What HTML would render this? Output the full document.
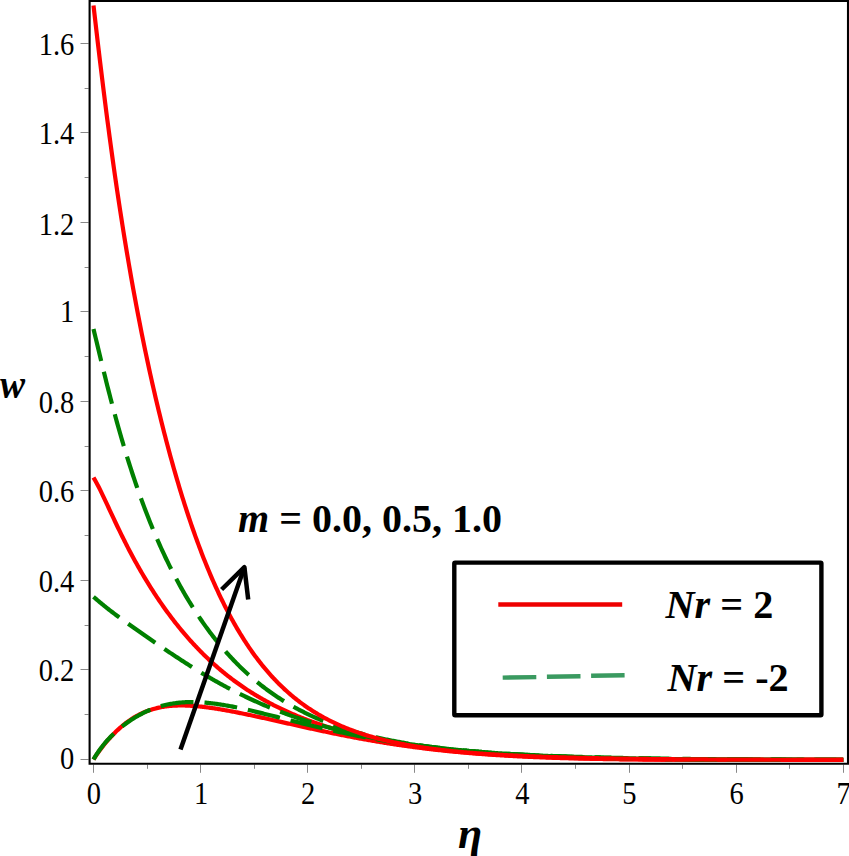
<!DOCTYPE html>
<html><head><meta charset="utf-8"><style>
html,body{margin:0;padding:0;background:#fff;}
body{width:849px;height:856px;overflow:hidden;position:relative;}
svg{position:absolute;left:0;top:0;}
text{font-family:"Liberation Serif",serif;}
</style></head><body>
<svg width="849" height="856" viewBox="0 0 849 856">
<path d="M93.50,759.50L94.57,757.81L95.64,756.18L96.71,754.59L97.78,753.04L98.86,751.54L99.93,750.07L101.00,748.64L102.07,747.24L103.14,745.87L104.21,744.53L105.28,743.23L106.35,741.95L107.42,740.70L108.50,739.47L109.57,738.27L110.64,737.10L111.71,735.96L112.78,734.84L113.85,733.74L114.92,732.67L115.99,731.62L117.06,730.60L118.14,729.60L119.21,728.62L120.28,727.67L121.35,726.75L122.42,725.84L123.49,724.96L124.56,724.10L125.63,723.27L126.70,722.46L127.78,721.67L128.85,720.90L129.92,720.16L130.99,719.44L132.06,718.74L133.13,718.06L134.20,717.41L135.27,716.77L136.34,716.16L137.42,715.57L138.49,715.00L139.56,714.44L140.63,713.91L141.70,713.40L142.77,712.91L143.84,712.44L144.91,711.99L145.98,711.55L147.06,711.13L148.13,710.73L149.20,710.35L150.27,709.99L151.34,709.64L152.41,709.31L153.48,709.00L154.55,708.70L155.62,708.42L156.69,708.15L157.77,707.90L158.84,707.66L159.91,707.44L160.98,707.23L162.05,707.03L163.12,706.85L164.19,706.68L165.26,706.52L166.33,706.38L167.41,706.25L168.48,706.12L169.55,706.01L170.62,705.92L171.69,705.83L172.76,705.75L173.83,705.68L174.90,705.63L175.97,705.58L177.05,705.54L178.12,705.51L179.19,705.49L180.26,705.48L181.33,705.48L182.40,705.48L183.47,705.49L184.54,705.51L185.61,705.54L186.69,705.58L187.76,705.62L188.83,705.67L189.90,705.72L190.97,705.78L192.04,705.85L193.11,705.93L194.18,706.01L195.25,706.09L196.33,706.18L197.40,706.28L198.47,706.38L199.54,706.49L200.61,706.60L201.68,706.71L202.75,706.84L203.82,706.96L204.89,707.09L205.97,707.22L207.04,707.36L208.11,707.50L209.18,707.65L210.25,707.80L211.32,707.95L212.39,708.10L213.46,708.26L214.53,708.43L215.61,708.59L216.68,708.76L217.75,708.93L218.82,709.11L219.89,709.28L220.96,709.46L222.03,709.64L223.10,709.83L224.17,710.02L225.25,710.21L226.32,710.40L227.39,710.59L228.46,710.79L229.53,710.99L230.60,711.19L231.67,711.39L232.74,711.59L233.81,711.80L234.89,712.00L235.96,712.21L237.03,712.42L238.10,712.64L239.17,712.85L240.24,713.07L241.31,713.28L242.38,713.50L243.45,713.72L244.53,713.94L245.60,714.16L246.67,714.38L247.74,714.61L248.81,714.83L249.88,715.06L250.95,715.29L252.02,715.51L253.09,715.74L254.16,715.97L255.24,716.20L256.31,716.43L257.38,716.67L258.45,716.90L259.52,717.13L260.59,717.37L261.66,717.60L262.73,717.84L263.80,718.07L264.88,718.31L265.95,718.55L267.02,718.78L268.09,719.02L269.16,719.26L270.23,719.50L271.30,719.74L272.37,719.98L273.44,720.21L274.52,720.45L275.59,720.69L276.66,720.93L277.73,721.17L278.80,721.42L279.87,721.66L280.94,721.90L282.01,722.14L283.08,722.38L284.16,722.62L285.23,722.86L286.30,723.10L287.37,723.34L288.44,723.58L289.51,723.82L290.58,724.06L291.65,724.30L292.72,724.54L293.80,724.78L294.87,725.02L295.94,725.26L297.01,725.50L298.08,725.74L299.15,725.98L300.22,726.22L301.29,726.45L302.36,726.69L303.44,726.93L304.51,727.17L305.58,727.40L306.65,727.64L307.72,727.87L308.79,728.11L309.86,728.34L310.93,728.58L312.00,728.81L313.08,729.04L314.15,729.28L315.22,729.51L316.29,729.74L317.36,729.97L318.43,730.20L319.50,730.43L320.57,730.66L321.64,730.89L322.72,731.11L323.79,731.34L324.86,731.57L325.93,731.79L327.00,732.02L328.07,732.24L329.14,732.47L330.21,732.69L331.28,732.91L332.36,733.13L333.43,733.35L334.50,733.57L335.57,733.79L336.64,734.01L337.71,734.22L338.78,734.44L339.85,734.66L340.92,734.87L342.00,735.08L343.07,735.30L344.14,735.51L345.21,735.72L346.28,735.93L347.35,736.14L348.42,736.35L349.49,736.55L350.56,736.76L351.64,736.96L352.71,737.17L353.78,737.37L354.85,737.57L355.92,737.78L356.99,737.98L358.06,738.18L359.13,738.37L360.20,738.57L361.27,738.77L362.35,738.96L363.42,739.16L364.49,739.35L365.56,739.54L366.63,739.73L367.70,739.92L368.77,740.11L369.84,740.30L370.91,740.49L371.99,740.67L373.06,740.86L374.13,741.04L375.20,741.22L376.27,741.40L377.34,741.59L378.41,741.76L379.48,741.94L380.55,742.12L381.63,742.30L382.70,742.47L383.77,742.64L384.84,742.82L385.91,742.99L386.98,743.16L388.05,743.33L389.12,743.50L390.19,743.66L391.27,743.83L392.34,744.00L393.41,744.16L394.48,744.32L395.55,744.48L396.62,744.64L397.69,744.80L398.76,744.96L399.83,745.12L400.91,745.28L401.98,745.43L403.05,745.58L404.12,745.74L405.19,745.89L406.26,746.04L407.33,746.19L408.40,746.34L409.47,746.48L410.55,746.63L411.62,746.78L412.69,746.92L413.76,747.06L414.83,747.20L415.90,747.35L416.97,747.48L418.04,747.62L419.11,747.76L420.19,747.90L421.26,748.03L422.33,748.17L423.40,748.30L424.47,748.43L425.54,748.56L426.61,748.69L427.68,748.82L428.75,748.95L429.83,749.08L430.90,749.20L431.97,749.33L433.04,749.45L434.11,749.57L435.18,749.69L436.25,749.81L437.32,749.93L438.39,750.05L439.47,750.17L440.54,750.28L441.61,750.40L442.68,750.51L443.75,750.63L444.82,750.74L445.89,750.85L446.96,750.96L448.03,751.07L449.11,751.18L450.18,751.29L451.25,751.39L452.32,751.50L453.39,751.60L454.46,751.71L455.53,751.81L456.60,751.91L457.67,752.01L458.75,752.11L459.82,752.21L460.89,752.31L461.96,752.40L463.03,752.50L464.10,752.59L465.17,752.69L466.24,752.78L467.31,752.87L468.38,752.97L469.46,753.06L470.53,753.15L471.60,753.23L472.67,753.32L473.74,753.41L474.81,753.49L475.88,753.58L476.95,753.66L478.02,753.75L479.10,753.83L480.17,753.91L481.24,753.99L482.31,754.07L483.38,754.15L484.45,754.23L485.52,754.31L486.59,754.39L487.66,754.46L488.74,754.54L489.81,754.61L490.88,754.68L491.95,754.76L493.02,754.83L494.09,754.90L495.16,754.97L496.23,755.04L497.30,755.11L498.38,755.18L499.45,755.25L500.52,755.31L501.59,755.38L502.66,755.44L503.73,755.51L504.80,755.57L505.87,755.64L506.94,755.70L508.02,755.76L509.09,755.82L510.16,755.88L511.23,755.94L512.30,756.00L513.37,756.06L514.44,756.12L515.51,756.17L516.58,756.23L517.66,756.28L518.73,756.34L519.80,756.39L520.87,756.45L521.94,756.50L523.01,756.55L524.08,756.60L525.15,756.66L526.22,756.71L527.30,756.76L528.37,756.81L529.44,756.85L530.51,756.90L531.58,756.95L532.65,757.00L533.72,757.04L534.79,757.09L535.86,757.13L536.94,757.18L538.01,757.22L539.08,757.27L540.15,757.31L541.22,757.35L542.29,757.39L543.36,757.44L544.43,757.48L545.50,757.52L546.58,757.56L547.65,757.60L548.72,757.64L549.79,757.67L550.86,757.71L551.93,757.75L553.00,757.79L554.07,757.82L555.14,757.86L556.22,757.89L557.29,757.93L558.36,757.96L559.43,758.00L560.50,758.03L561.57,758.06L562.64,758.10L563.71,758.13L564.78,758.16L565.86,758.19L566.93,758.22L568.00,758.25L569.07,758.28L570.14,758.31L571.21,758.34L572.28,758.37L573.35,758.40L574.42,758.42L575.50,758.45L576.57,758.48L577.64,758.51L578.71,758.53L579.78,758.56L580.85,758.58L581.92,758.61L582.99,758.63L584.06,758.66L585.13,758.68L586.21,758.71L587.28,758.73L588.35,758.75L589.42,758.77L590.49,758.80L591.56,758.82L592.63,758.84L593.70,758.86L594.77,758.88L595.85,758.90L596.92,758.92L597.99,758.94L599.06,758.96L600.13,758.98L601.20,759.00L602.27,759.02L603.34,759.04L604.41,759.06L605.49,759.07L606.56,759.09L607.63,759.11L608.70,759.13L609.77,759.14L610.84,759.16L611.91,759.17L612.98,759.19L614.05,759.21L615.13,759.22L616.20,759.24L617.27,759.25L618.34,759.27L619.41,759.28L620.48,759.29L621.55,759.31L622.62,759.32L623.69,759.33L624.77,759.35L625.84,759.36L626.91,759.37L627.98,759.38L629.05,759.40L630.12,759.41L631.19,759.42L632.26,759.43L633.33,759.44L634.41,759.45L635.48,759.46L636.55,759.47L637.62,759.48L638.69,759.49L639.76,759.50L640.83,759.51L641.90,759.52L642.97,759.53L644.05,759.54L645.12,759.55L646.19,759.56L647.26,759.57L648.33,759.58L649.40,759.58L650.47,759.59L651.54,759.60L652.61,759.61L653.69,759.61L654.76,759.62L655.83,759.63L656.90,759.64L657.97,759.64L659.04,759.65L660.11,759.66L661.18,759.66L662.25,759.67L663.33,759.67L664.40,759.68L665.47,759.68L666.54,759.69L667.61,759.70L668.68,759.70L669.75,759.71L670.82,759.71L671.89,759.72L672.97,759.72L674.04,759.72L675.11,759.73L676.18,759.73L677.25,759.74L678.32,759.74L679.39,759.75L680.46,759.75L681.53,759.75L682.61,759.76L683.68,759.76L684.75,759.76L685.82,759.77L686.89,759.77L687.96,759.77L689.03,759.78L690.10,759.78L691.17,759.78L692.24,759.78L693.32,759.79L694.39,759.79L695.46,759.79L696.53,759.79L697.60,759.79L698.67,759.80L699.74,759.80L700.81,759.80L701.88,759.80L702.96,759.80L704.03,759.80L705.10,759.81L706.17,759.81L707.24,759.81L708.31,759.81L709.38,759.81L710.45,759.81L711.52,759.81L712.60,759.81L713.67,759.81L714.74,759.81L715.81,759.82L716.88,759.82L717.95,759.82L719.02,759.82L720.09,759.82L721.16,759.82L722.24,759.82L723.31,759.82L724.38,759.82L725.45,759.82L726.52,759.82L727.59,759.82L728.66,759.82L729.73,759.82L730.80,759.82L731.88,759.82L732.95,759.82L734.02,759.82L735.09,759.82L736.16,759.81L737.23,759.81L738.30,759.81L739.37,759.81L740.44,759.81L741.52,759.81L742.59,759.81L743.66,759.81L744.73,759.81L745.80,759.81L746.87,759.81L747.94,759.81L749.01,759.80L750.08,759.80L751.16,759.80L752.23,759.80L753.30,759.80L754.37,759.80L755.44,759.80L756.51,759.80L757.58,759.79L758.65,759.79L759.72,759.79L760.80,759.79L761.87,759.79L762.94,759.79L764.01,759.78L765.08,759.78L766.15,759.78L767.22,759.78L768.29,759.78L769.36,759.78L770.44,759.77L771.51,759.77L772.58,759.77L773.65,759.77L774.72,759.77L775.79,759.77L776.86,759.76L777.93,759.76L779.00,759.76L780.08,759.76L781.15,759.76L782.22,759.75L783.29,759.75L784.36,759.75L785.43,759.75L786.50,759.75L787.57,759.74L788.64,759.74L789.72,759.74L790.79,759.74L791.86,759.73L792.93,759.73L794.00,759.73L795.07,759.73L796.14,759.73L797.21,759.72L798.28,759.72L799.35,759.72L800.43,759.72L801.50,759.71L802.57,759.71L803.64,759.71L804.71,759.71L805.78,759.71L806.85,759.70L807.92,759.70L808.99,759.70L810.07,759.70L811.14,759.69L812.21,759.69L813.28,759.69L814.35,759.69L815.42,759.68L816.49,759.68L817.56,759.68L818.63,759.68L819.71,759.67L820.78,759.67L821.85,759.67L822.92,759.67L823.99,759.67L825.06,759.66L826.13,759.66L827.20,759.66L828.27,759.66L829.35,759.65L830.42,759.65L831.49,759.65L832.56,759.65L833.63,759.64L834.70,759.64L835.77,759.64L836.84,759.64L837.91,759.63L838.99,759.63L840.06,759.63L841.13,759.63L842.20,759.62L843.27,759.62" fill="none" stroke="#ff0000" stroke-width="4.2" stroke-linejoin="round"/>
<path d="M93.50,477.51L94.57,479.31L95.64,481.19L96.71,483.16L97.78,485.19L98.86,487.28L99.93,489.42L101.00,491.60L102.07,493.81L103.14,496.05L104.21,498.32L105.28,500.60L106.35,502.89L107.42,505.19L108.50,507.49L109.57,509.79L110.64,512.10L111.71,514.39L112.78,516.68L113.85,518.97L114.92,521.24L115.99,523.50L117.06,525.75L118.14,527.98L119.21,530.20L120.28,532.41L121.35,534.60L122.42,536.77L123.49,538.92L124.56,541.05L125.63,543.17L126.70,545.27L127.78,547.35L128.85,549.41L129.92,551.46L130.99,553.48L132.06,555.49L133.13,557.48L134.20,559.45L135.27,561.40L136.34,563.33L137.42,565.25L138.49,567.14L139.56,569.02L140.63,570.88L141.70,572.73L142.77,574.56L143.84,576.37L144.91,578.16L145.98,579.93L147.06,581.69L148.13,583.43L149.20,585.16L150.27,586.87L151.34,588.57L152.41,590.24L153.48,591.91L154.55,593.55L155.62,595.18L156.69,596.80L157.77,598.40L158.84,599.99L159.91,601.56L160.98,603.12L162.05,604.66L163.12,606.19L164.19,607.70L165.26,609.20L166.33,610.69L167.41,612.16L168.48,613.62L169.55,615.06L170.62,616.50L171.69,617.91L172.76,619.32L173.83,620.71L174.90,622.09L175.97,623.45L177.05,624.81L178.12,626.14L179.19,627.47L180.26,628.79L181.33,630.09L182.40,631.38L183.47,632.65L184.54,633.92L185.61,635.17L186.69,636.41L187.76,637.64L188.83,638.86L189.90,640.06L190.97,641.26L192.04,642.44L193.11,643.61L194.18,644.77L195.25,645.91L196.33,647.05L197.40,648.18L198.47,649.29L199.54,650.39L200.61,651.49L201.68,652.57L202.75,653.64L203.82,654.70L204.89,655.75L205.97,656.79L207.04,657.82L208.11,658.84L209.18,659.85L210.25,660.85L211.32,661.83L212.39,662.81L213.46,663.78L214.53,664.74L215.61,665.69L216.68,666.63L217.75,667.56L218.82,668.48L219.89,669.40L220.96,670.30L222.03,671.19L223.10,672.08L224.17,672.95L225.25,673.82L226.32,674.68L227.39,675.53L228.46,676.37L229.53,677.20L230.60,678.03L231.67,678.84L232.74,679.65L233.81,680.45L234.89,681.24L235.96,682.03L237.03,682.80L238.10,683.57L239.17,684.33L240.24,685.08L241.31,685.83L242.38,686.57L243.45,687.30L244.53,688.02L245.60,688.73L246.67,689.44L247.74,690.14L248.81,690.84L249.88,691.52L250.95,692.20L252.02,692.88L253.09,693.54L254.16,694.20L255.24,694.86L256.31,695.50L257.38,696.14L258.45,696.78L259.52,697.40L260.59,698.03L261.66,698.64L262.73,699.25L263.80,699.85L264.88,700.45L265.95,701.04L267.02,701.63L268.09,702.21L269.16,702.78L270.23,703.35L271.30,703.91L272.37,704.47L273.44,705.02L274.52,705.57L275.59,706.11L276.66,706.64L277.73,707.17L278.80,707.70L279.87,708.22L280.94,708.73L282.01,709.24L283.08,709.75L284.16,710.25L285.23,710.74L286.30,711.23L287.37,711.72L288.44,712.20L289.51,712.67L290.58,713.15L291.65,713.61L292.72,714.08L293.80,714.53L294.87,714.99L295.94,715.44L297.01,715.88L298.08,716.32L299.15,716.76L300.22,717.19L301.29,717.62L302.36,718.04L303.44,718.46L304.51,718.88L305.58,719.29L306.65,719.70L307.72,720.11L308.79,720.51L309.86,720.90L310.93,721.30L312.00,721.68L313.08,722.07L314.15,722.45L315.22,722.83L316.29,723.21L317.36,723.58L318.43,723.94L319.50,724.31L320.57,724.67L321.64,725.03L322.72,725.38L323.79,725.73L324.86,726.08L325.93,726.42L327.00,726.76L328.07,727.10L329.14,727.44L330.21,727.77L331.28,728.10L332.36,728.42L333.43,728.74L334.50,729.06L335.57,729.38L336.64,729.69L337.71,730.00L338.78,730.31L339.85,730.62L340.92,730.92L342.00,731.22L343.07,731.51L344.14,731.81L345.21,732.10L346.28,732.39L347.35,732.67L348.42,732.95L349.49,733.23L350.56,733.51L351.64,733.79L352.71,734.06L353.78,734.33L354.85,734.59L355.92,734.86L356.99,735.12L358.06,735.38L359.13,735.64L360.20,735.89L361.27,736.15L362.35,736.40L363.42,736.64L364.49,736.89L365.56,737.13L366.63,737.37L367.70,737.61L368.77,737.85L369.84,738.08L370.91,738.32L371.99,738.55L373.06,738.77L374.13,739.00L375.20,739.22L376.27,739.44L377.34,739.66L378.41,739.88L379.48,740.10L380.55,740.31L381.63,740.52L382.70,740.73L383.77,740.94L384.84,741.14L385.91,741.35L386.98,741.55L388.05,741.75L389.12,741.95L390.19,742.14L391.27,742.34L392.34,742.53L393.41,742.72L394.48,742.91L395.55,743.09L396.62,743.28L397.69,743.46L398.76,743.64L399.83,743.82L400.91,744.00L401.98,744.18L403.05,744.35L404.12,744.52L405.19,744.70L406.26,744.86L407.33,745.03L408.40,745.20L409.47,745.36L410.55,745.53L411.62,745.69L412.69,745.85L413.76,746.01L414.83,746.16L415.90,746.32L416.97,746.47L418.04,746.63L419.11,746.78L420.19,746.93L421.26,747.07L422.33,747.22L423.40,747.37L424.47,747.51L425.54,747.65L426.61,747.79L427.68,747.93L428.75,748.07L429.83,748.21L430.90,748.34L431.97,748.48L433.04,748.61L434.11,748.74L435.18,748.87L436.25,749.00L437.32,749.13L438.39,749.26L439.47,749.38L440.54,749.50L441.61,749.63L442.68,749.75L443.75,749.87L444.82,749.99L445.89,750.11L446.96,750.22L448.03,750.34L449.11,750.45L450.18,750.57L451.25,750.68L452.32,750.79L453.39,750.90L454.46,751.01L455.53,751.11L456.60,751.22L457.67,751.33L458.75,751.43L459.82,751.53L460.89,751.64L461.96,751.74L463.03,751.84L464.10,751.94L465.17,752.03L466.24,752.13L467.31,752.23L468.38,752.32L469.46,752.42L470.53,752.51L471.60,752.60L472.67,752.69L473.74,752.78L474.81,752.87L475.88,752.96L476.95,753.05L478.02,753.13L479.10,753.22L480.17,753.30L481.24,753.39L482.31,753.47L483.38,753.55L484.45,753.63L485.52,753.71L486.59,753.79L487.66,753.87L488.74,753.95L489.81,754.03L490.88,754.10L491.95,754.18L493.02,754.25L494.09,754.33L495.16,754.40L496.23,754.47L497.30,754.54L498.38,754.61L499.45,754.68L500.52,754.75L501.59,754.82L502.66,754.89L503.73,754.95L504.80,755.02L505.87,755.09L506.94,755.15L508.02,755.21L509.09,755.28L510.16,755.34L511.23,755.40L512.30,755.46L513.37,755.52L514.44,755.58L515.51,755.64L516.58,755.70L517.66,755.76L518.73,755.81L519.80,755.87L520.87,755.93L521.94,755.98L523.01,756.04L524.08,756.09L525.15,756.14L526.22,756.20L527.30,756.25L528.37,756.30L529.44,756.35L530.51,756.40L531.58,756.45L532.65,756.50L533.72,756.55L534.79,756.60L535.86,756.64L536.94,756.69L538.01,756.74L539.08,756.78L540.15,756.83L541.22,756.87L542.29,756.92L543.36,756.96L544.43,757.01L545.50,757.05L546.58,757.09L547.65,757.13L548.72,757.17L549.79,757.21L550.86,757.25L551.93,757.29L553.00,757.33L554.07,757.37L555.14,757.41L556.22,757.45L557.29,757.49L558.36,757.52L559.43,757.56L560.50,757.60L561.57,757.63L562.64,757.67L563.71,757.70L564.78,757.74L565.86,757.77L566.93,757.80L568.00,757.84L569.07,757.87L570.14,757.90L571.21,757.93L572.28,757.96L573.35,758.00L574.42,758.03L575.50,758.06L576.57,758.09L577.64,758.12L578.71,758.15L579.78,758.17L580.85,758.20L581.92,758.23L582.99,758.26L584.06,758.29L585.13,758.31L586.21,758.34L587.28,758.37L588.35,758.39L589.42,758.42L590.49,758.44L591.56,758.47L592.63,758.49L593.70,758.52L594.77,758.54L595.85,758.56L596.92,758.59L597.99,758.61L599.06,758.63L600.13,758.66L601.20,758.68L602.27,758.70L603.34,758.72L604.41,758.74L605.49,758.76L606.56,758.78L607.63,758.80L608.70,758.82L609.77,758.84L610.84,758.86L611.91,758.88L612.98,758.90L614.05,758.92L615.13,758.94L616.20,758.96L617.27,758.98L618.34,758.99L619.41,759.01L620.48,759.03L621.55,759.05L622.62,759.06L623.69,759.08L624.77,759.10L625.84,759.11L626.91,759.13L627.98,759.14L629.05,759.16L630.12,759.17L631.19,759.19L632.26,759.20L633.33,759.22L634.41,759.23L635.48,759.25L636.55,759.26L637.62,759.27L638.69,759.29L639.76,759.30L640.83,759.31L641.90,759.33L642.97,759.34L644.05,759.35L645.12,759.36L646.19,759.38L647.26,759.39L648.33,759.40L649.40,759.41L650.47,759.42L651.54,759.43L652.61,759.44L653.69,759.45L654.76,759.46L655.83,759.48L656.90,759.49L657.97,759.50L659.04,759.51L660.11,759.52L661.18,759.53L662.25,759.53L663.33,759.54L664.40,759.55L665.47,759.56L666.54,759.57L667.61,759.58L668.68,759.59L669.75,759.60L670.82,759.60L671.89,759.61L672.97,759.62L674.04,759.63L675.11,759.64L676.18,759.64L677.25,759.65L678.32,759.66L679.39,759.67L680.46,759.67L681.53,759.68L682.61,759.69L683.68,759.69L684.75,759.70L685.82,759.71L686.89,759.71L687.96,759.72L689.03,759.73L690.10,759.73L691.17,759.74L692.24,759.74L693.32,759.75L694.39,759.75L695.46,759.76L696.53,759.76L697.60,759.77L698.67,759.77L699.74,759.78L700.81,759.78L701.88,759.79L702.96,759.79L704.03,759.80L705.10,759.80L706.17,759.81L707.24,759.81L708.31,759.82L709.38,759.82L710.45,759.82L711.52,759.83L712.60,759.83L713.67,759.84L714.74,759.84L715.81,759.84L716.88,759.85L717.95,759.85L719.02,759.85L720.09,759.86L721.16,759.86L722.24,759.86L723.31,759.87L724.38,759.87L725.45,759.87L726.52,759.87L727.59,759.88L728.66,759.88L729.73,759.88L730.80,759.88L731.88,759.89L732.95,759.89L734.02,759.89L735.09,759.89L736.16,759.90L737.23,759.90L738.30,759.90L739.37,759.90L740.44,759.90L741.52,759.91L742.59,759.91L743.66,759.91L744.73,759.91L745.80,759.91L746.87,759.91L747.94,759.91L749.01,759.92L750.08,759.92L751.16,759.92L752.23,759.92L753.30,759.92L754.37,759.92L755.44,759.92L756.51,759.92L757.58,759.93L758.65,759.93L759.72,759.93L760.80,759.93L761.87,759.93L762.94,759.93L764.01,759.93L765.08,759.93L766.15,759.93L767.22,759.93L768.29,759.93L769.36,759.93L770.44,759.93L771.51,759.93L772.58,759.94L773.65,759.94L774.72,759.94L775.79,759.94L776.86,759.94L777.93,759.94L779.00,759.94L780.08,759.94L781.15,759.94L782.22,759.94L783.29,759.94L784.36,759.94L785.43,759.94L786.50,759.94L787.57,759.94L788.64,759.94L789.72,759.94L790.79,759.94L791.86,759.94L792.93,759.94L794.00,759.94L795.07,759.93L796.14,759.93L797.21,759.93L798.28,759.93L799.35,759.93L800.43,759.93L801.50,759.93L802.57,759.93L803.64,759.93L804.71,759.93L805.78,759.93L806.85,759.93L807.92,759.93L808.99,759.93L810.07,759.93L811.14,759.93L812.21,759.93L813.28,759.93L814.35,759.92L815.42,759.92L816.49,759.92L817.56,759.92L818.63,759.92L819.71,759.92L820.78,759.92L821.85,759.92L822.92,759.92L823.99,759.92L825.06,759.92L826.13,759.92L827.20,759.91L828.27,759.91L829.35,759.91L830.42,759.91L831.49,759.91L832.56,759.91L833.63,759.91L834.70,759.91L835.77,759.91L836.84,759.91L837.91,759.90L838.99,759.90L840.06,759.90L841.13,759.90L842.20,759.90L843.27,759.90" fill="none" stroke="#ff0000" stroke-width="4.2" stroke-linejoin="round"/>
<path d="M93.50,759.50L94.57,757.66L95.64,755.90L96.71,754.21L97.78,752.59L98.86,751.02L99.93,749.52L101.00,748.06L102.07,746.66L103.14,745.30L104.21,743.98L105.28,742.70L106.35,741.46L107.42,740.26L108.50,739.08L109.57,737.94L110.64,736.83L111.71,735.75L112.78,734.69L113.85,733.66L114.92,732.66L115.99,731.68L117.06,730.72L118.14,729.78L119.21,728.86L120.28,727.97L121.35,727.09L122.42,726.23L123.49,725.40L124.56,724.58L125.63,723.78L126.70,722.99L127.78,722.23L128.85,721.48L129.92,720.75L130.99,720.03L132.06,719.33L133.13,718.65L134.20,717.98L135.27,717.33L136.34,716.70L137.42,716.08L138.49,715.48L139.56,714.89L140.63,714.31L141.70,713.76L142.77,713.21L143.84,712.68L144.91,712.17L145.98,711.67L147.06,711.19L148.13,710.72L149.20,710.26L150.27,709.82L151.34,709.39L152.41,708.97L153.48,708.57L154.55,708.19L155.62,707.81L156.69,707.45L157.77,707.10L158.84,706.77L159.91,706.45L160.98,706.14L162.05,705.84L163.12,705.56L164.19,705.29L165.26,705.03L166.33,704.78L167.41,704.55L168.48,704.32L169.55,704.11L170.62,703.91L171.69,703.72L172.76,703.55L173.83,703.38L174.90,703.22L175.97,703.08L177.05,702.94L178.12,702.82L179.19,702.70L180.26,702.60L181.33,702.50L182.40,702.42L183.47,702.35L184.54,702.28L185.61,702.22L186.69,702.18L187.76,702.14L188.83,702.11L189.90,702.09L190.97,702.07L192.04,702.07L193.11,702.07L194.18,702.09L195.25,702.11L196.33,702.13L197.40,702.17L198.47,702.21L199.54,702.26L200.61,702.32L201.68,702.38L202.75,702.45L203.82,702.53L204.89,702.61L205.97,702.70L207.04,702.80L208.11,702.90L209.18,703.01L210.25,703.13L211.32,703.25L212.39,703.37L213.46,703.50L214.53,703.64L215.61,703.78L216.68,703.93L217.75,704.08L218.82,704.23L219.89,704.39L220.96,704.56L222.03,704.73L223.10,704.90L224.17,705.08L225.25,705.26L226.32,705.45L227.39,705.64L228.46,705.83L229.53,706.03L230.60,706.23L231.67,706.43L232.74,706.64L233.81,706.85L234.89,707.06L235.96,707.28L237.03,707.50L238.10,707.72L239.17,707.95L240.24,708.17L241.31,708.40L242.38,708.64L243.45,708.87L244.53,709.11L245.60,709.35L246.67,709.59L247.74,709.83L248.81,710.08L249.88,710.32L250.95,710.57L252.02,710.82L253.09,711.08L254.16,711.33L255.24,711.58L256.31,711.84L257.38,712.10L258.45,712.36L259.52,712.62L260.59,712.88L261.66,713.14L262.73,713.40L263.80,713.67L264.88,713.93L265.95,714.20L267.02,714.47L268.09,714.73L269.16,715.00L270.23,715.27L271.30,715.54L272.37,715.81L273.44,716.08L274.52,716.35L275.59,716.62L276.66,716.89L277.73,717.16L278.80,717.43L279.87,717.70L280.94,717.98L282.01,718.25L283.08,718.52L284.16,718.79L285.23,719.06L286.30,719.33L287.37,719.60L288.44,719.87L289.51,720.15L290.58,720.42L291.65,720.69L292.72,720.96L293.80,721.23L294.87,721.49L295.94,721.76L297.01,722.03L298.08,722.30L299.15,722.57L300.22,722.83L301.29,723.10L302.36,723.36L303.44,723.63L304.51,723.89L305.58,724.16L306.65,724.42L307.72,724.68L308.79,724.94L309.86,725.20L310.93,725.46L312.00,725.72L313.08,725.98L314.15,726.24L315.22,726.49L316.29,726.75L317.36,727.00L318.43,727.26L319.50,727.51L320.57,727.76L321.64,728.01L322.72,728.26L323.79,728.51L324.86,728.76L325.93,729.00L327.00,729.25L328.07,729.49L329.14,729.74L330.21,729.98L331.28,730.22L332.36,730.46L333.43,730.70L334.50,730.93L335.57,731.17L336.64,731.41L337.71,731.64L338.78,731.87L339.85,732.11L340.92,732.34L342.00,732.57L343.07,732.79L344.14,733.02L345.21,733.25L346.28,733.47L347.35,733.70L348.42,733.92L349.49,734.14L350.56,734.36L351.64,734.58L352.71,734.79L353.78,735.01L354.85,735.23L355.92,735.44L356.99,735.65L358.06,735.86L359.13,736.07L360.20,736.28L361.27,736.49L362.35,736.69L363.42,736.90L364.49,737.10L365.56,737.30L366.63,737.50L367.70,737.70L368.77,737.90L369.84,738.10L370.91,738.29L371.99,738.49L373.06,738.68L374.13,738.87L375.20,739.06L376.27,739.25L377.34,739.44L378.41,739.63L379.48,739.81L380.55,740.00L381.63,740.18L382.70,740.36L383.77,740.54L384.84,740.72L385.91,740.90L386.98,741.08L388.05,741.25L389.12,741.43L390.19,741.60L391.27,741.77L392.34,741.94L393.41,742.11L394.48,742.28L395.55,742.45L396.62,742.61L397.69,742.77L398.76,742.94L399.83,743.10L400.91,743.26L401.98,743.42L403.05,743.58L404.12,743.73L405.19,743.89L406.26,744.04L407.33,744.20L408.40,744.35L409.47,744.50L410.55,744.65L411.62,744.80L412.69,744.95L413.76,745.09L414.83,745.24L415.90,745.38L416.97,745.53L418.04,745.67L419.11,745.81L420.19,745.95L421.26,746.09L422.33,746.22L423.40,746.36L424.47,746.49L425.54,746.63L426.61,746.76L427.68,746.89L428.75,747.02L429.83,747.15L430.90,747.28L431.97,747.41L433.04,747.54L434.11,747.66L435.18,747.79L436.25,747.91L437.32,748.03L438.39,748.15L439.47,748.27L440.54,748.39L441.61,748.51L442.68,748.63L443.75,748.74L444.82,748.86L445.89,748.97L446.96,749.08L448.03,749.20L449.11,749.31L450.18,749.42L451.25,749.53L452.32,749.64L453.39,749.74L454.46,749.85L455.53,749.95L456.60,750.06L457.67,750.16L458.75,750.27L459.82,750.37L460.89,750.47L461.96,750.57L463.03,750.67L464.10,750.77L465.17,750.86L466.24,750.96L467.31,751.05L468.38,751.15L469.46,751.24L470.53,751.34L471.60,751.43L472.67,751.52L473.74,751.61L474.81,751.70L475.88,751.79L476.95,751.88L478.02,751.96L479.10,752.05L480.17,752.13L481.24,752.22L482.31,752.30L483.38,752.39L484.45,752.47L485.52,752.55L486.59,752.63L487.66,752.71L488.74,752.79L489.81,752.87L490.88,752.95L491.95,753.02L493.02,753.10L494.09,753.18L495.16,753.25L496.23,753.33L497.30,753.40L498.38,753.47L499.45,753.54L500.52,753.61L501.59,753.69L502.66,753.76L503.73,753.82L504.80,753.89L505.87,753.96L506.94,754.03L508.02,754.10L509.09,754.16L510.16,754.23L511.23,754.29L512.30,754.36L513.37,754.42L514.44,754.48L515.51,754.54L516.58,754.61L517.66,754.67L518.73,754.73L519.80,754.79L520.87,754.85L521.94,754.90L523.01,754.96L524.08,755.02L525.15,755.08L526.22,755.13L527.30,755.19L528.37,755.24L529.44,755.30L530.51,755.35L531.58,755.40L532.65,755.46L533.72,755.51L534.79,755.56L535.86,755.61L536.94,755.66L538.01,755.71L539.08,755.76L540.15,755.81L541.22,755.86L542.29,755.91L543.36,755.96L544.43,756.00L545.50,756.05L546.58,756.10L547.65,756.14L548.72,756.19L549.79,756.23L550.86,756.28L551.93,756.32L553.00,756.37L554.07,756.41L555.14,756.45L556.22,756.49L557.29,756.53L558.36,756.58L559.43,756.62L560.50,756.66L561.57,756.70L562.64,756.74L563.71,756.77L564.78,756.81L565.86,756.85L566.93,756.89L568.00,756.93L569.07,756.96L570.14,757.00L571.21,757.04L572.28,757.07L573.35,757.11L574.42,757.14L575.50,757.18L576.57,757.21L577.64,757.24L578.71,757.28L579.78,757.31L580.85,757.34L581.92,757.38L582.99,757.41L584.06,757.44L585.13,757.47L586.21,757.50L587.28,757.53L588.35,757.56L589.42,757.59L590.49,757.62L591.56,757.65L592.63,757.68L593.70,757.71L594.77,757.74L595.85,757.77L596.92,757.79L597.99,757.82L599.06,757.85L600.13,757.87L601.20,757.90L602.27,757.93L603.34,757.95L604.41,757.98L605.49,758.00L606.56,758.03L607.63,758.05L608.70,758.08L609.77,758.10L610.84,758.13L611.91,758.15L612.98,758.17L614.05,758.20L615.13,758.22L616.20,758.24L617.27,758.26L618.34,758.28L619.41,758.31L620.48,758.33L621.55,758.35L622.62,758.37L623.69,758.39L624.77,758.41L625.84,758.43L626.91,758.45L627.98,758.47L629.05,758.49L630.12,758.51L631.19,758.53L632.26,758.55L633.33,758.57L634.41,758.58L635.48,758.60L636.55,758.62L637.62,758.64L638.69,758.66L639.76,758.67L640.83,758.69L641.90,758.71L642.97,758.72L644.05,758.74L645.12,758.76L646.19,758.77L647.26,758.79L648.33,758.80L649.40,758.82L650.47,758.83L651.54,758.85L652.61,758.86L653.69,758.88L654.76,758.89L655.83,758.91L656.90,758.92L657.97,758.94L659.04,758.95L660.11,758.96L661.18,758.98L662.25,758.99L663.33,759.00L664.40,759.02L665.47,759.03L666.54,759.04L667.61,759.05L668.68,759.07L669.75,759.08L670.82,759.09L671.89,759.10L672.97,759.11L674.04,759.12L675.11,759.14L676.18,759.15L677.25,759.16L678.32,759.17L679.39,759.18L680.46,759.19L681.53,759.20L682.61,759.21L683.68,759.22L684.75,759.23L685.82,759.24L686.89,759.25L687.96,759.26L689.03,759.27L690.10,759.28L691.17,759.29L692.24,759.30L693.32,759.31L694.39,759.32L695.46,759.32L696.53,759.33L697.60,759.34L698.67,759.35L699.74,759.36L700.81,759.37L701.88,759.37L702.96,759.38L704.03,759.39L705.10,759.40L706.17,759.40L707.24,759.41L708.31,759.42L709.38,759.43L710.45,759.43L711.52,759.44L712.60,759.45L713.67,759.45L714.74,759.46L715.81,759.47L716.88,759.47L717.95,759.48L719.02,759.49L720.09,759.49L721.16,759.50L722.24,759.51L723.31,759.51L724.38,759.52L725.45,759.52L726.52,759.53L727.59,759.54L728.66,759.54L729.73,759.55L730.80,759.55L731.88,759.56L732.95,759.56L734.02,759.57L735.09,759.57L736.16,759.58L737.23,759.58L738.30,759.59L739.37,759.59L740.44,759.60L741.52,759.60L742.59,759.61L743.66,759.61L744.73,759.61L745.80,759.62L746.87,759.62L747.94,759.63L749.01,759.63L750.08,759.63L751.16,759.64L752.23,759.64L753.30,759.65L754.37,759.65L755.44,759.65L756.51,759.66L757.58,759.66L758.65,759.66L759.72,759.67L760.80,759.67L761.87,759.67L762.94,759.68L764.01,759.68L765.08,759.68L766.15,759.69L767.22,759.69L768.29,759.69L769.36,759.70L770.44,759.70L771.51,759.70L772.58,759.70L773.65,759.71L774.72,759.71L775.79,759.71L776.86,759.72L777.93,759.72L779.00,759.72L780.08,759.72L781.15,759.72L782.22,759.73L783.29,759.73L784.36,759.73L785.43,759.73L786.50,759.74L787.57,759.74L788.64,759.74L789.72,759.74L790.79,759.74L791.86,759.75L792.93,759.75L794.00,759.75L795.07,759.75L796.14,759.75L797.21,759.75L798.28,759.76L799.35,759.76L800.43,759.76L801.50,759.76L802.57,759.76L803.64,759.76L804.71,759.76L805.78,759.77L806.85,759.77L807.92,759.77L808.99,759.77L810.07,759.77L811.14,759.77L812.21,759.77L813.28,759.77L814.35,759.78L815.42,759.78L816.49,759.78L817.56,759.78L818.63,759.78L819.71,759.78L820.78,759.78L821.85,759.78L822.92,759.78L823.99,759.78L825.06,759.79L826.13,759.79L827.20,759.79L828.27,759.79L829.35,759.79L830.42,759.79L831.49,759.79L832.56,759.79L833.63,759.79L834.70,759.79L835.77,759.79L836.84,759.79L837.91,759.79L838.99,759.79L840.06,759.79L841.13,759.79L842.20,759.79L843.27,759.80" fill="none" stroke="#008000" stroke-width="4.2" stroke-linejoin="round" stroke-dasharray="33 11"/>
<path d="M93.50,596.80L94.57,597.74L95.64,598.67L96.71,599.59L97.78,600.51L98.86,601.42L99.93,602.32L101.00,603.21L102.07,604.10L103.14,604.97L104.21,605.84L105.28,606.70L106.35,607.56L107.42,608.40L108.50,609.24L109.57,610.08L110.64,610.90L111.71,611.73L112.78,612.54L113.85,613.35L114.92,614.15L115.99,614.95L117.06,615.75L118.14,616.54L119.21,617.33L120.28,618.11L121.35,618.89L122.42,619.67L123.49,620.44L124.56,621.21L125.63,621.98L126.70,622.75L127.78,623.51L128.85,624.28L129.92,625.04L130.99,625.80L132.06,626.55L133.13,627.31L134.20,628.06L135.27,628.82L136.34,629.57L137.42,630.32L138.49,631.07L139.56,631.82L140.63,632.56L141.70,633.31L142.77,634.06L143.84,634.80L144.91,635.55L145.98,636.29L147.06,637.03L148.13,637.78L149.20,638.52L150.27,639.26L151.34,640.00L152.41,640.74L153.48,641.47L154.55,642.21L155.62,642.95L156.69,643.68L157.77,644.41L158.84,645.15L159.91,645.88L160.98,646.61L162.05,647.34L163.12,648.07L164.19,648.79L165.26,649.52L166.33,650.24L167.41,650.96L168.48,651.68L169.55,652.40L170.62,653.12L171.69,653.83L172.76,654.55L173.83,655.26L174.90,655.97L175.97,656.68L177.05,657.38L178.12,658.09L179.19,658.79L180.26,659.49L181.33,660.19L182.40,660.88L183.47,661.57L184.54,662.26L185.61,662.95L186.69,663.64L187.76,664.32L188.83,665.00L189.90,665.68L190.97,666.36L192.04,667.03L193.11,667.70L194.18,668.37L195.25,669.03L196.33,669.69L197.40,670.35L198.47,671.01L199.54,671.66L200.61,672.31L201.68,672.96L202.75,673.60L203.82,674.24L204.89,674.88L205.97,675.52L207.04,676.15L208.11,676.78L209.18,677.40L210.25,678.03L211.32,678.65L212.39,679.26L213.46,679.87L214.53,680.48L215.61,681.09L216.68,681.69L217.75,682.29L218.82,682.89L219.89,683.49L220.96,684.08L222.03,684.66L223.10,685.25L224.17,685.83L225.25,686.40L226.32,686.98L227.39,687.55L228.46,688.12L229.53,688.68L230.60,689.24L231.67,689.80L232.74,690.35L233.81,690.90L234.89,691.45L235.96,691.99L237.03,692.53L238.10,693.07L239.17,693.61L240.24,694.14L241.31,694.66L242.38,695.19L243.45,695.71L244.53,696.23L245.60,696.74L246.67,697.25L247.74,697.76L248.81,698.26L249.88,698.77L250.95,699.26L252.02,699.76L253.09,700.25L254.16,700.74L255.24,701.22L256.31,701.70L257.38,702.18L258.45,702.66L259.52,703.13L260.59,703.60L261.66,704.06L262.73,704.53L263.80,704.99L264.88,705.44L265.95,705.90L267.02,706.35L268.09,706.79L269.16,707.24L270.23,707.68L271.30,708.12L272.37,708.55L273.44,708.98L274.52,709.41L275.59,709.84L276.66,710.26L277.73,710.68L278.80,711.10L279.87,711.51L280.94,711.92L282.01,712.33L283.08,712.74L284.16,713.14L285.23,713.54L286.30,713.94L287.37,714.33L288.44,714.72L289.51,715.11L290.58,715.49L291.65,715.88L292.72,716.26L293.80,716.63L294.87,717.01L295.94,717.38L297.01,717.75L298.08,718.11L299.15,718.48L300.22,718.84L301.29,719.19L302.36,719.55L303.44,719.90L304.51,720.25L305.58,720.60L306.65,720.94L307.72,721.29L308.79,721.63L309.86,721.96L310.93,722.30L312.00,722.63L313.08,722.96L314.15,723.29L315.22,723.61L316.29,723.93L317.36,724.25L318.43,724.57L319.50,724.89L320.57,725.20L321.64,725.51L322.72,725.82L323.79,726.12L324.86,726.42L325.93,726.72L327.00,727.02L328.07,727.32L329.14,727.61L330.21,727.90L331.28,728.19L332.36,728.48L333.43,728.76L334.50,729.05L335.57,729.33L336.64,729.60L337.71,729.88L338.78,730.15L339.85,730.43L340.92,730.69L342.00,730.96L343.07,731.23L344.14,731.49L345.21,731.75L346.28,732.01L347.35,732.27L348.42,732.52L349.49,732.77L350.56,733.02L351.64,733.27L352.71,733.52L353.78,733.76L354.85,734.01L355.92,734.25L356.99,734.49L358.06,734.72L359.13,734.96L360.20,735.19L361.27,735.42L362.35,735.65L363.42,735.88L364.49,736.10L365.56,736.33L366.63,736.55L367.70,736.77L368.77,736.99L369.84,737.20L370.91,737.42L371.99,737.63L373.06,737.84L374.13,738.05L375.20,738.26L376.27,738.46L377.34,738.67L378.41,738.87L379.48,739.07L380.55,739.27L381.63,739.47L382.70,739.66L383.77,739.86L384.84,740.05L385.91,740.24L386.98,740.43L388.05,740.62L389.12,740.80L390.19,740.99L391.27,741.17L392.34,741.35L393.41,741.53L394.48,741.71L395.55,741.89L396.62,742.06L397.69,742.23L398.76,742.41L399.83,742.58L400.91,742.75L401.98,742.91L403.05,743.08L404.12,743.25L405.19,743.41L406.26,743.57L407.33,743.73L408.40,743.89L409.47,744.05L410.55,744.21L411.62,744.36L412.69,744.51L413.76,744.67L414.83,744.82L415.90,744.97L416.97,745.12L418.04,745.26L419.11,745.41L420.19,745.55L421.26,745.70L422.33,745.84L423.40,745.98L424.47,746.12L425.54,746.26L426.61,746.40L427.68,746.53L428.75,746.67L429.83,746.80L430.90,746.93L431.97,747.06L433.04,747.19L434.11,747.32L435.18,747.45L436.25,747.58L437.32,747.70L438.39,747.83L439.47,747.95L440.54,748.07L441.61,748.19L442.68,748.31L443.75,748.43L444.82,748.55L445.89,748.66L446.96,748.78L448.03,748.89L449.11,749.01L450.18,749.12L451.25,749.23L452.32,749.34L453.39,749.45L454.46,749.56L455.53,749.67L456.60,749.77L457.67,749.88L458.75,749.98L459.82,750.09L460.89,750.19L461.96,750.29L463.03,750.39L464.10,750.49L465.17,750.59L466.24,750.69L467.31,750.78L468.38,750.88L469.46,750.97L470.53,751.07L471.60,751.16L472.67,751.25L473.74,751.35L474.81,751.44L475.88,751.53L476.95,751.61L478.02,751.70L479.10,751.79L480.17,751.88L481.24,751.96L482.31,752.05L483.38,752.13L484.45,752.21L485.52,752.30L486.59,752.38L487.66,752.46L488.74,752.54L489.81,752.62L490.88,752.70L491.95,752.78L493.02,752.85L494.09,752.93L495.16,753.01L496.23,753.08L497.30,753.15L498.38,753.23L499.45,753.30L500.52,753.37L501.59,753.44L502.66,753.51L503.73,753.58L504.80,753.65L505.87,753.72L506.94,753.79L508.02,753.86L509.09,753.92L510.16,753.99L511.23,754.06L512.30,754.12L513.37,754.18L514.44,754.25L515.51,754.31L516.58,754.37L517.66,754.44L518.73,754.50L519.80,754.56L520.87,754.62L521.94,754.68L523.01,754.73L524.08,754.79L525.15,754.85L526.22,754.91L527.30,754.96L528.37,755.02L529.44,755.07L530.51,755.13L531.58,755.18L532.65,755.24L533.72,755.29L534.79,755.34L535.86,755.39L536.94,755.45L538.01,755.50L539.08,755.55L540.15,755.60L541.22,755.65L542.29,755.69L543.36,755.74L544.43,755.79L545.50,755.84L546.58,755.89L547.65,755.93L548.72,755.98L549.79,756.02L550.86,756.07L551.93,756.11L553.00,756.16L554.07,756.20L555.14,756.24L556.22,756.29L557.29,756.33L558.36,756.37L559.43,756.41L560.50,756.45L561.57,756.49L562.64,756.53L563.71,756.57L564.78,756.61L565.86,756.65L566.93,756.69L568.00,756.73L569.07,756.77L570.14,756.80L571.21,756.84L572.28,756.88L573.35,756.91L574.42,756.95L575.50,756.99L576.57,757.02L577.64,757.06L578.71,757.09L579.78,757.12L580.85,757.16L581.92,757.19L582.99,757.22L584.06,757.26L585.13,757.29L586.21,757.32L587.28,757.35L588.35,757.38L589.42,757.41L590.49,757.44L591.56,757.47L592.63,757.50L593.70,757.53L594.77,757.56L595.85,757.59L596.92,757.62L597.99,757.65L599.06,757.68L600.13,757.70L601.20,757.73L602.27,757.76L603.34,757.79L604.41,757.81L605.49,757.84L606.56,757.86L607.63,757.89L608.70,757.92L609.77,757.94L610.84,757.97L611.91,757.99L612.98,758.01L614.05,758.04L615.13,758.06L616.20,758.09L617.27,758.11L618.34,758.13L619.41,758.15L620.48,758.18L621.55,758.20L622.62,758.22L623.69,758.24L624.77,758.26L625.84,758.29L626.91,758.31L627.98,758.33L629.05,758.35L630.12,758.37L631.19,758.39L632.26,758.41L633.33,758.43L634.41,758.45L635.48,758.47L636.55,758.48L637.62,758.50L638.69,758.52L639.76,758.54L640.83,758.56L641.90,758.58L642.97,758.59L644.05,758.61L645.12,758.63L646.19,758.65L647.26,758.66L648.33,758.68L649.40,758.70L650.47,758.71L651.54,758.73L652.61,758.74L653.69,758.76L654.76,758.77L655.83,758.79L656.90,758.81L657.97,758.82L659.04,758.83L660.11,758.85L661.18,758.86L662.25,758.88L663.33,758.89L664.40,758.91L665.47,758.92L666.54,758.93L667.61,758.95L668.68,758.96L669.75,758.97L670.82,758.99L671.89,759.00L672.97,759.01L674.04,759.02L675.11,759.04L676.18,759.05L677.25,759.06L678.32,759.07L679.39,759.08L680.46,759.10L681.53,759.11L682.61,759.12L683.68,759.13L684.75,759.14L685.82,759.15L686.89,759.16L687.96,759.17L689.03,759.18L690.10,759.19L691.17,759.20L692.24,759.21L693.32,759.22L694.39,759.23L695.46,759.24L696.53,759.25L697.60,759.26L698.67,759.27L699.74,759.28L700.81,759.29L701.88,759.30L702.96,759.31L704.03,759.32L705.10,759.33L706.17,759.33L707.24,759.34L708.31,759.35L709.38,759.36L710.45,759.37L711.52,759.38L712.60,759.38L713.67,759.39L714.74,759.40L715.81,759.41L716.88,759.41L717.95,759.42L719.02,759.43L720.09,759.44L721.16,759.44L722.24,759.45L723.31,759.46L724.38,759.46L725.45,759.47L726.52,759.48L727.59,759.48L728.66,759.49L729.73,759.50L730.80,759.50L731.88,759.51L732.95,759.51L734.02,759.52L735.09,759.53L736.16,759.53L737.23,759.54L738.30,759.54L739.37,759.55L740.44,759.55L741.52,759.56L742.59,759.57L743.66,759.57L744.73,759.58L745.80,759.58L746.87,759.59L747.94,759.59L749.01,759.60L750.08,759.60L751.16,759.61L752.23,759.61L753.30,759.61L754.37,759.62L755.44,759.62L756.51,759.63L757.58,759.63L758.65,759.64L759.72,759.64L760.80,759.64L761.87,759.65L762.94,759.65L764.01,759.66L765.08,759.66L766.15,759.66L767.22,759.67L768.29,759.67L769.36,759.68L770.44,759.68L771.51,759.68L772.58,759.69L773.65,759.69L774.72,759.69L775.79,759.70L776.86,759.70L777.93,759.70L779.00,759.71L780.08,759.71L781.15,759.71L782.22,759.71L783.29,759.72L784.36,759.72L785.43,759.72L786.50,759.73L787.57,759.73L788.64,759.73L789.72,759.73L790.79,759.74L791.86,759.74L792.93,759.74L794.00,759.74L795.07,759.75L796.14,759.75L797.21,759.75L798.28,759.75L799.35,759.76L800.43,759.76L801.50,759.76L802.57,759.76L803.64,759.76L804.71,759.77L805.78,759.77L806.85,759.77L807.92,759.77L808.99,759.77L810.07,759.78L811.14,759.78L812.21,759.78L813.28,759.78L814.35,759.78L815.42,759.78L816.49,759.79L817.56,759.79L818.63,759.79L819.71,759.79L820.78,759.79L821.85,759.79L822.92,759.79L823.99,759.80L825.06,759.80L826.13,759.80L827.20,759.80L828.27,759.80L829.35,759.80L830.42,759.80L831.49,759.80L832.56,759.81L833.63,759.81L834.70,759.81L835.77,759.81L836.84,759.81L837.91,759.81L838.99,759.81L840.06,759.81L841.13,759.81L842.20,759.81L843.27,759.82" fill="none" stroke="#008000" stroke-width="4.2" stroke-linejoin="round" stroke-dasharray="33 11"/>
<path d="M93.50,328.91L94.57,333.39L95.64,337.87L96.71,342.36L97.78,346.83L98.86,351.29L99.93,355.74L101.00,360.17L102.07,364.57L103.14,368.95L104.21,373.30L105.28,377.62L106.35,381.90L107.42,386.15L108.50,390.37L109.57,394.54L110.64,398.68L111.71,402.77L112.78,406.83L113.85,410.84L114.92,414.81L115.99,418.74L117.06,422.62L118.14,426.46L119.21,430.26L120.28,434.02L121.35,437.73L122.42,441.40L123.49,445.02L124.56,448.60L125.63,452.14L126.70,455.64L127.78,459.09L128.85,462.50L129.92,465.87L130.99,469.20L132.06,472.49L133.13,475.74L134.20,478.95L135.27,482.12L136.34,485.25L137.42,488.35L138.49,491.40L139.56,494.42L140.63,497.40L141.70,500.35L142.77,503.26L143.84,506.14L144.91,508.98L145.98,511.78L147.06,514.55L148.13,517.29L149.20,520.00L150.27,522.67L151.34,525.32L152.41,527.93L153.48,530.51L154.55,533.06L155.62,535.58L156.69,538.07L157.77,540.53L158.84,542.96L159.91,545.37L160.98,547.75L162.05,550.10L163.12,552.42L164.19,554.72L165.26,556.99L166.33,559.23L167.41,561.45L168.48,563.64L169.55,565.81L170.62,567.95L171.69,570.07L172.76,572.17L173.83,574.24L174.90,576.29L175.97,578.32L177.05,580.33L178.12,582.31L179.19,584.27L180.26,586.21L181.33,588.12L182.40,590.02L183.47,591.89L184.54,593.75L185.61,595.58L186.69,597.40L187.76,599.19L188.83,600.97L189.90,602.72L190.97,604.46L192.04,606.18L193.11,607.87L194.18,609.55L195.25,611.22L196.33,612.86L197.40,614.49L198.47,616.09L199.54,617.68L200.61,619.26L201.68,620.81L202.75,622.35L203.82,623.88L204.89,625.38L205.97,626.87L207.04,628.35L208.11,629.81L209.18,631.25L210.25,632.68L211.32,634.09L212.39,635.48L213.46,636.86L214.53,638.23L215.61,639.58L216.68,640.92L217.75,642.24L218.82,643.55L219.89,644.84L220.96,646.12L222.03,647.39L223.10,648.64L224.17,649.88L225.25,651.10L226.32,652.31L227.39,653.51L228.46,654.69L229.53,655.87L230.60,657.03L231.67,658.17L232.74,659.31L233.81,660.43L234.89,661.54L235.96,662.64L237.03,663.72L238.10,664.79L239.17,665.86L240.24,666.91L241.31,667.94L242.38,668.97L243.45,669.99L244.53,670.99L245.60,671.99L246.67,672.97L247.74,673.94L248.81,674.90L249.88,675.85L250.95,676.79L252.02,677.72L253.09,678.64L254.16,679.55L255.24,680.45L256.31,681.34L257.38,682.22L258.45,683.09L259.52,683.94L260.59,684.79L261.66,685.64L262.73,686.47L263.80,687.29L264.88,688.10L265.95,688.90L267.02,689.70L268.09,690.48L269.16,691.26L270.23,692.03L271.30,692.79L272.37,693.54L273.44,694.28L274.52,695.02L275.59,695.74L276.66,696.46L277.73,697.17L278.80,697.87L279.87,698.57L280.94,699.25L282.01,699.93L283.08,700.60L284.16,701.26L285.23,701.92L286.30,702.57L287.37,703.21L288.44,703.84L289.51,704.47L290.58,705.09L291.65,705.70L292.72,706.31L293.80,706.90L294.87,707.50L295.94,708.08L297.01,708.66L298.08,709.23L299.15,709.80L300.22,710.35L301.29,710.91L302.36,711.45L303.44,711.99L304.51,712.53L305.58,713.05L306.65,713.58L307.72,714.09L308.79,714.60L309.86,715.10L310.93,715.60L312.00,716.10L313.08,716.58L314.15,717.06L315.22,717.54L316.29,718.01L317.36,718.47L318.43,718.93L319.50,719.39L320.57,719.84L321.64,720.28L322.72,720.72L323.79,721.16L324.86,721.58L325.93,722.01L327.00,722.43L328.07,722.84L329.14,723.25L330.21,723.66L331.28,724.06L332.36,724.45L333.43,724.84L334.50,725.23L335.57,725.61L336.64,725.99L337.71,726.37L338.78,726.74L339.85,727.10L340.92,727.46L342.00,727.82L343.07,728.17L344.14,728.52L345.21,728.86L346.28,729.21L347.35,729.54L348.42,729.88L349.49,730.21L350.56,730.53L351.64,730.85L352.71,731.17L353.78,731.49L354.85,731.80L355.92,732.10L356.99,732.41L358.06,732.71L359.13,733.01L360.20,733.30L361.27,733.59L362.35,733.88L363.42,734.16L364.49,734.44L365.56,734.72L366.63,734.99L367.70,735.26L368.77,735.53L369.84,735.80L370.91,736.06L371.99,736.32L373.06,736.57L374.13,736.83L375.20,737.08L376.27,737.32L377.34,737.57L378.41,737.81L379.48,738.05L380.55,738.29L381.63,738.52L382.70,738.75L383.77,738.98L384.84,739.20L385.91,739.43L386.98,739.65L388.05,739.87L389.12,740.08L390.19,740.30L391.27,740.51L392.34,740.72L393.41,740.92L394.48,741.13L395.55,741.33L396.62,741.53L397.69,741.72L398.76,741.92L399.83,742.11L400.91,742.30L401.98,742.49L403.05,742.68L404.12,742.86L405.19,743.04L406.26,743.23L407.33,743.40L408.40,743.58L409.47,743.75L410.55,743.93L411.62,744.10L412.69,744.27L413.76,744.43L414.83,744.60L415.90,744.76L416.97,744.92L418.04,745.08L419.11,745.24L420.19,745.39L421.26,745.55L422.33,745.70L423.40,745.85L424.47,746.00L425.54,746.15L426.61,746.29L427.68,746.44L428.75,746.58L429.83,746.72L430.90,746.86L431.97,747.00L433.04,747.14L434.11,747.27L435.18,747.40L436.25,747.54L437.32,747.67L438.39,747.80L439.47,747.92L440.54,748.05L441.61,748.18L442.68,748.30L443.75,748.42L444.82,748.54L445.89,748.66L446.96,748.78L448.03,748.90L449.11,749.01L450.18,749.13L451.25,749.24L452.32,749.35L453.39,749.46L454.46,749.57L455.53,749.68L456.60,749.79L457.67,749.90L458.75,750.00L459.82,750.10L460.89,750.21L461.96,750.31L463.03,750.41L464.10,750.51L465.17,750.61L466.24,750.70L467.31,750.80L468.38,750.90L469.46,750.99L470.53,751.08L471.60,751.18L472.67,751.27L473.74,751.36L474.81,751.45L475.88,751.54L476.95,751.62L478.02,751.71L479.10,751.80L480.17,751.88L481.24,751.96L482.31,752.05L483.38,752.13L484.45,752.21L485.52,752.29L486.59,752.37L487.66,752.45L488.74,752.53L489.81,752.60L490.88,752.68L491.95,752.76L493.02,752.83L494.09,752.90L495.16,752.98L496.23,753.05L497.30,753.12L498.38,753.19L499.45,753.26L500.52,753.33L501.59,753.40L502.66,753.47L503.73,753.53L504.80,753.60L505.87,753.67L506.94,753.73L508.02,753.80L509.09,753.86L510.16,753.92L511.23,753.99L512.30,754.05L513.37,754.11L514.44,754.17L515.51,754.23L516.58,754.29L517.66,754.35L518.73,754.41L519.80,754.46L520.87,754.52L521.94,754.58L523.01,754.63L524.08,754.69L525.15,754.74L526.22,754.80L527.30,754.85L528.37,754.90L529.44,754.95L530.51,755.01L531.58,755.06L532.65,755.11L533.72,755.16L534.79,755.21L535.86,755.26L536.94,755.31L538.01,755.35L539.08,755.40L540.15,755.45L541.22,755.50L542.29,755.54L543.36,755.59L544.43,755.63L545.50,755.68L546.58,755.72L547.65,755.77L548.72,755.81L549.79,755.85L550.86,755.90L551.93,755.94L553.00,755.98L554.07,756.02L555.14,756.06L556.22,756.10L557.29,756.14L558.36,756.18L559.43,756.22L560.50,756.26L561.57,756.30L562.64,756.34L563.71,756.38L564.78,756.41L565.86,756.45L566.93,756.49L568.00,756.52L569.07,756.56L570.14,756.60L571.21,756.63L572.28,756.67L573.35,756.70L574.42,756.73L575.50,756.77L576.57,756.80L577.64,756.83L578.71,756.87L579.78,756.90L580.85,756.93L581.92,756.96L582.99,757.00L584.06,757.03L585.13,757.06L586.21,757.09L587.28,757.12L588.35,757.15L589.42,757.18L590.49,757.21L591.56,757.24L592.63,757.27L593.70,757.29L594.77,757.32L595.85,757.35L596.92,757.38L597.99,757.41L599.06,757.43L600.13,757.46L601.20,757.49L602.27,757.51L603.34,757.54L604.41,757.56L605.49,757.59L606.56,757.61L607.63,757.64L608.70,757.66L609.77,757.69L610.84,757.71L611.91,757.74L612.98,757.76L614.05,757.79L615.13,757.81L616.20,757.83L617.27,757.85L618.34,757.88L619.41,757.90L620.48,757.92L621.55,757.94L622.62,757.97L623.69,757.99L624.77,758.01L625.84,758.03L626.91,758.05L627.98,758.07L629.05,758.09L630.12,758.11L631.19,758.13L632.26,758.15L633.33,758.17L634.41,758.19L635.48,758.21L636.55,758.23L637.62,758.25L638.69,758.27L639.76,758.29L640.83,758.30L641.90,758.32L642.97,758.34L644.05,758.36L645.12,758.38L646.19,758.39L647.26,758.41L648.33,758.43L649.40,758.44L650.47,758.46L651.54,758.48L652.61,758.49L653.69,758.51L654.76,758.53L655.83,758.54L656.90,758.56L657.97,758.57L659.04,758.59L660.11,758.60L661.18,758.62L662.25,758.63L663.33,758.65L664.40,758.66L665.47,758.68L666.54,758.69L667.61,758.71L668.68,758.72L669.75,758.73L670.82,758.75L671.89,758.76L672.97,758.78L674.04,758.79L675.11,758.80L676.18,758.82L677.25,758.83L678.32,758.84L679.39,758.85L680.46,758.87L681.53,758.88L682.61,758.89L683.68,758.90L684.75,758.92L685.82,758.93L686.89,758.94L687.96,758.95L689.03,758.96L690.10,758.97L691.17,758.99L692.24,759.00L693.32,759.01L694.39,759.02L695.46,759.03L696.53,759.04L697.60,759.05L698.67,759.06L699.74,759.07L700.81,759.08L701.88,759.09L702.96,759.10L704.03,759.11L705.10,759.12L706.17,759.13L707.24,759.14L708.31,759.15L709.38,759.16L710.45,759.17L711.52,759.18L712.60,759.19L713.67,759.20L714.74,759.21L715.81,759.22L716.88,759.23L717.95,759.23L719.02,759.24L720.09,759.25L721.16,759.26L722.24,759.27L723.31,759.28L724.38,759.28L725.45,759.29L726.52,759.30L727.59,759.31L728.66,759.32L729.73,759.32L730.80,759.33L731.88,759.34L732.95,759.35L734.02,759.35L735.09,759.36L736.16,759.37L737.23,759.38L738.30,759.38L739.37,759.39L740.44,759.40L741.52,759.40L742.59,759.41L743.66,759.42L744.73,759.42L745.80,759.43L746.87,759.44L747.94,759.44L749.01,759.45L750.08,759.46L751.16,759.46L752.23,759.47L753.30,759.48L754.37,759.48L755.44,759.49L756.51,759.49L757.58,759.50L758.65,759.50L759.72,759.51L760.80,759.52L761.87,759.52L762.94,759.53L764.01,759.53L765.08,759.54L766.15,759.54L767.22,759.55L768.29,759.55L769.36,759.56L770.44,759.56L771.51,759.57L772.58,759.57L773.65,759.58L774.72,759.58L775.79,759.59L776.86,759.59L777.93,759.60L779.00,759.60L780.08,759.61L781.15,759.61L782.22,759.61L783.29,759.62L784.36,759.62L785.43,759.63L786.50,759.63L787.57,759.64L788.64,759.64L789.72,759.64L790.79,759.65L791.86,759.65L792.93,759.66L794.00,759.66L795.07,759.66L796.14,759.67L797.21,759.67L798.28,759.68L799.35,759.68L800.43,759.68L801.50,759.69L802.57,759.69L803.64,759.69L804.71,759.70L805.78,759.70L806.85,759.70L807.92,759.71L808.99,759.71L810.07,759.71L811.14,759.72L812.21,759.72L813.28,759.72L814.35,759.72L815.42,759.73L816.49,759.73L817.56,759.73L818.63,759.74L819.71,759.74L820.78,759.74L821.85,759.74L822.92,759.75L823.99,759.75L825.06,759.75L826.13,759.76L827.20,759.76L828.27,759.76L829.35,759.76L830.42,759.77L831.49,759.77L832.56,759.77L833.63,759.77L834.70,759.77L835.77,759.78L836.84,759.78L837.91,759.78L838.99,759.78L840.06,759.79L841.13,759.79L842.20,759.79L843.27,759.79" fill="none" stroke="#008000" stroke-width="4.2" stroke-linejoin="round" stroke-dasharray="33 11"/>
<path d="M93.50,5.52L94.57,14.83L95.64,24.08L96.71,33.28L97.78,42.40L98.86,51.44L99.93,60.40L101.00,69.27L102.07,78.05L103.14,86.73L104.21,95.31L105.28,103.78L106.35,112.15L107.42,120.41L108.50,128.56L109.57,136.61L110.64,144.55L111.71,152.38L112.78,160.11L113.85,167.73L114.92,175.24L115.99,182.65L117.06,189.96L118.14,197.17L119.21,204.27L120.28,211.28L121.35,218.19L122.42,225.01L123.49,231.73L124.56,238.36L125.63,244.90L126.70,251.35L127.78,257.72L128.85,264.00L129.92,270.19L130.99,276.31L132.06,282.34L133.13,288.30L134.20,294.18L135.27,299.98L136.34,305.71L137.42,311.37L138.49,316.96L139.56,322.47L140.63,327.92L141.70,333.30L142.77,338.62L143.84,343.87L144.91,349.05L145.98,354.18L147.06,359.24L148.13,364.25L149.20,369.19L150.27,374.08L151.34,378.91L152.41,383.68L153.48,388.40L154.55,393.06L155.62,397.67L156.69,402.22L157.77,406.73L158.84,411.18L159.91,415.58L160.98,419.93L162.05,424.23L163.12,428.48L164.19,432.69L165.26,436.84L166.33,440.95L167.41,445.02L168.48,449.03L169.55,453.01L170.62,456.93L171.69,460.81L172.76,464.65L173.83,468.45L174.90,472.20L175.97,475.91L177.05,479.57L178.12,483.20L179.19,486.78L180.26,490.33L181.33,493.83L182.40,497.29L183.47,500.71L184.54,504.09L185.61,507.44L186.69,510.74L187.76,514.01L188.83,517.24L189.90,520.43L190.97,523.58L192.04,526.70L193.11,529.78L194.18,532.82L195.25,535.83L196.33,538.80L197.40,541.74L198.47,544.64L199.54,547.51L200.61,550.34L201.68,553.14L202.75,555.90L203.82,558.64L204.89,561.33L205.97,564.00L207.04,566.63L208.11,569.23L209.18,571.80L210.25,574.34L211.32,576.85L212.39,579.32L213.46,581.77L214.53,584.18L215.61,586.56L216.68,588.92L217.75,591.24L218.82,593.54L219.89,595.80L220.96,598.04L222.03,600.25L223.10,602.43L224.17,604.58L225.25,606.71L226.32,608.80L227.39,610.88L228.46,612.92L229.53,614.94L230.60,616.93L231.67,618.89L232.74,620.83L233.81,622.75L234.89,624.64L235.96,626.50L237.03,628.34L238.10,630.16L239.17,631.95L240.24,633.72L241.31,635.47L242.38,637.19L243.45,638.89L244.53,640.56L245.60,642.22L246.67,643.85L247.74,645.46L248.81,647.05L249.88,648.61L250.95,650.16L252.02,651.68L253.09,653.19L254.16,654.67L255.24,656.13L256.31,657.58L257.38,659.00L258.45,660.40L259.52,661.79L260.59,663.16L261.66,664.50L262.73,665.83L263.80,667.14L264.88,668.43L265.95,669.71L267.02,670.97L268.09,672.20L269.16,673.43L270.23,674.63L271.30,675.82L272.37,676.99L273.44,678.15L274.52,679.29L275.59,680.41L276.66,681.52L277.73,682.61L278.80,683.69L279.87,684.75L280.94,685.80L282.01,686.83L283.08,687.85L284.16,688.85L285.23,689.84L286.30,690.82L287.37,691.78L288.44,692.73L289.51,693.66L290.58,694.58L291.65,695.49L292.72,696.39L293.80,697.27L294.87,698.14L295.94,699.00L297.01,699.84L298.08,700.68L299.15,701.50L300.22,702.31L301.29,703.11L302.36,703.89L303.44,704.67L304.51,705.44L305.58,706.19L306.65,706.93L307.72,707.67L308.79,708.39L309.86,709.10L310.93,709.80L312.00,710.49L313.08,711.18L314.15,711.85L315.22,712.51L316.29,713.16L317.36,713.81L318.43,714.44L319.50,715.07L320.57,715.68L321.64,716.29L322.72,716.89L323.79,717.48L324.86,718.06L325.93,718.63L327.00,719.20L328.07,719.76L329.14,720.31L330.21,720.85L331.28,721.38L332.36,721.91L333.43,722.43L334.50,722.94L335.57,723.44L336.64,723.94L337.71,724.43L338.78,724.91L339.85,725.38L340.92,725.85L342.00,726.31L343.07,726.77L344.14,727.22L345.21,727.66L346.28,728.10L347.35,728.53L348.42,728.95L349.49,729.37L350.56,729.78L351.64,730.19L352.71,730.59L353.78,730.98L354.85,731.37L355.92,731.75L356.99,732.13L358.06,732.50L359.13,732.87L360.20,733.23L361.27,733.59L362.35,733.94L363.42,734.28L364.49,734.63L365.56,734.96L366.63,735.29L367.70,735.62L368.77,735.94L369.84,736.26L370.91,736.58L371.99,736.88L373.06,737.19L374.13,737.49L375.20,737.79L376.27,738.08L377.34,738.37L378.41,738.65L379.48,738.93L380.55,739.21L381.63,739.48L382.70,739.75L383.77,740.01L384.84,740.27L385.91,740.53L386.98,740.78L388.05,741.03L389.12,741.28L390.19,741.52L391.27,741.76L392.34,742.00L393.41,742.23L394.48,742.46L395.55,742.68L396.62,742.91L397.69,743.13L398.76,743.34L399.83,743.56L400.91,743.77L401.98,743.98L403.05,744.18L404.12,744.39L405.19,744.59L406.26,744.78L407.33,744.98L408.40,745.17L409.47,745.36L410.55,745.54L411.62,745.73L412.69,745.91L413.76,746.09L414.83,746.26L415.90,746.44L416.97,746.61L418.04,746.78L419.11,746.94L420.19,747.11L421.26,747.27L422.33,747.43L423.40,747.59L424.47,747.74L425.54,747.90L426.61,748.05L427.68,748.20L428.75,748.35L429.83,748.49L430.90,748.63L431.97,748.78L433.04,748.92L434.11,749.05L435.18,749.19L436.25,749.32L437.32,749.45L438.39,749.59L439.47,749.71L440.54,749.84L441.61,749.97L442.68,750.09L443.75,750.21L444.82,750.33L445.89,750.45L446.96,750.57L448.03,750.68L449.11,750.80L450.18,750.91L451.25,751.02L452.32,751.13L453.39,751.24L454.46,751.35L455.53,751.45L456.60,751.56L457.67,751.66L458.75,751.76L459.82,751.86L460.89,751.96L461.96,752.06L463.03,752.15L464.10,752.25L465.17,752.34L466.24,752.43L467.31,752.52L468.38,752.61L469.46,752.70L470.53,752.79L471.60,752.88L472.67,752.96L473.74,753.05L474.81,753.13L475.88,753.21L476.95,753.29L478.02,753.37L479.10,753.45L480.17,753.53L481.24,753.61L482.31,753.68L483.38,753.76L484.45,753.83L485.52,753.91L486.59,753.98L487.66,754.05L488.74,754.12L489.81,754.19L490.88,754.26L491.95,754.33L493.02,754.39L494.09,754.46L495.16,754.52L496.23,754.59L497.30,754.65L498.38,754.72L499.45,754.78L500.52,754.84L501.59,754.90L502.66,754.96L503.73,755.02L504.80,755.08L505.87,755.13L506.94,755.19L508.02,755.25L509.09,755.30L510.16,755.36L511.23,755.41L512.30,755.47L513.37,755.52L514.44,755.57L515.51,755.62L516.58,755.67L517.66,755.72L518.73,755.77L519.80,755.82L520.87,755.87L521.94,755.92L523.01,755.97L524.08,756.01L525.15,756.06L526.22,756.11L527.30,756.15L528.37,756.19L529.44,756.24L530.51,756.28L531.58,756.33L532.65,756.37L533.72,756.41L534.79,756.45L535.86,756.49L536.94,756.53L538.01,756.57L539.08,756.61L540.15,756.65L541.22,756.69L542.29,756.73L543.36,756.77L544.43,756.80L545.50,756.84L546.58,756.88L547.65,756.91L548.72,756.95L549.79,756.98L550.86,757.02L551.93,757.05L553.00,757.09L554.07,757.12L555.14,757.15L556.22,757.18L557.29,757.22L558.36,757.25L559.43,757.28L560.50,757.31L561.57,757.34L562.64,757.37L563.71,757.40L564.78,757.43L565.86,757.46L566.93,757.49L568.00,757.52L569.07,757.55L570.14,757.58L571.21,757.60L572.28,757.63L573.35,757.66L574.42,757.69L575.50,757.71L576.57,757.74L577.64,757.76L578.71,757.79L579.78,757.82L580.85,757.84L581.92,757.87L582.99,757.89L584.06,757.91L585.13,757.94L586.21,757.96L587.28,757.99L588.35,758.01L589.42,758.03L590.49,758.05L591.56,758.08L592.63,758.10L593.70,758.12L594.77,758.14L595.85,758.16L596.92,758.18L597.99,758.21L599.06,758.23L600.13,758.25L601.20,758.27L602.27,758.29L603.34,758.31L604.41,758.33L605.49,758.35L606.56,758.36L607.63,758.38L608.70,758.40L609.77,758.42L610.84,758.44L611.91,758.46L612.98,758.47L614.05,758.49L615.13,758.51L616.20,758.53L617.27,758.54L618.34,758.56L619.41,758.58L620.48,758.59L621.55,758.61L622.62,758.63L623.69,758.64L624.77,758.66L625.84,758.67L626.91,758.69L627.98,758.70L629.05,758.72L630.12,758.73L631.19,758.75L632.26,758.76L633.33,758.78L634.41,758.79L635.48,758.81L636.55,758.82L637.62,758.83L638.69,758.85L639.76,758.86L640.83,758.87L641.90,758.89L642.97,758.90L644.05,758.91L645.12,758.93L646.19,758.94L647.26,758.95L648.33,758.96L649.40,758.98L650.47,758.99L651.54,759.00L652.61,759.01L653.69,759.02L654.76,759.04L655.83,759.05L656.90,759.06L657.97,759.07L659.04,759.08L660.11,759.09L661.18,759.10L662.25,759.11L663.33,759.12L664.40,759.13L665.47,759.14L666.54,759.15L667.61,759.16L668.68,759.17L669.75,759.18L670.82,759.19L671.89,759.20L672.97,759.21L674.04,759.22L675.11,759.23L676.18,759.24L677.25,759.25L678.32,759.26L679.39,759.27L680.46,759.28L681.53,759.29L682.61,759.29L683.68,759.30L684.75,759.31L685.82,759.32L686.89,759.33L687.96,759.34L689.03,759.34L690.10,759.35L691.17,759.36L692.24,759.37L693.32,759.38L694.39,759.38L695.46,759.39L696.53,759.40L697.60,759.41L698.67,759.41L699.74,759.42L700.81,759.43L701.88,759.43L702.96,759.44L704.03,759.45L705.10,759.46L706.17,759.46L707.24,759.47L708.31,759.48L709.38,759.48L710.45,759.49L711.52,759.49L712.60,759.50L713.67,759.51L714.74,759.51L715.81,759.52L716.88,759.52L717.95,759.53L719.02,759.54L720.09,759.54L721.16,759.55L722.24,759.55L723.31,759.56L724.38,759.56L725.45,759.57L726.52,759.58L727.59,759.58L728.66,759.59L729.73,759.59L730.80,759.60L731.88,759.60L732.95,759.61L734.02,759.61L735.09,759.62L736.16,759.62L737.23,759.63L738.30,759.63L739.37,759.64L740.44,759.64L741.52,759.64L742.59,759.65L743.66,759.65L744.73,759.66L745.80,759.66L746.87,759.67L747.94,759.67L749.01,759.67L750.08,759.68L751.16,759.68L752.23,759.69L753.30,759.69L754.37,759.69L755.44,759.70L756.51,759.70L757.58,759.71L758.65,759.71L759.72,759.71L760.80,759.72L761.87,759.72L762.94,759.72L764.01,759.73L765.08,759.73L766.15,759.73L767.22,759.74L768.29,759.74L769.36,759.74L770.44,759.75L771.51,759.75L772.58,759.75L773.65,759.76L774.72,759.76L775.79,759.76L776.86,759.77L777.93,759.77L779.00,759.77L780.08,759.77L781.15,759.78L782.22,759.78L783.29,759.78L784.36,759.79L785.43,759.79L786.50,759.79L787.57,759.79L788.64,759.80L789.72,759.80L790.79,759.80L791.86,759.80L792.93,759.81L794.00,759.81L795.07,759.81L796.14,759.81L797.21,759.81L798.28,759.82L799.35,759.82L800.43,759.82L801.50,759.82L802.57,759.82L803.64,759.83L804.71,759.83L805.78,759.83L806.85,759.83L807.92,759.83L808.99,759.84L810.07,759.84L811.14,759.84L812.21,759.84L813.28,759.84L814.35,759.85L815.42,759.85L816.49,759.85L817.56,759.85L818.63,759.85L819.71,759.85L820.78,759.86L821.85,759.86L822.92,759.86L823.99,759.86L825.06,759.86L826.13,759.86L827.20,759.86L828.27,759.87L829.35,759.87L830.42,759.87L831.49,759.87L832.56,759.87L833.63,759.87L834.70,759.87L835.77,759.87L836.84,759.88L837.91,759.88L838.99,759.88L840.06,759.88L841.13,759.88L842.20,759.88L843.27,759.88" fill="none" stroke="#ff0000" stroke-width="4.2" stroke-linejoin="round"/>
<path d="M80.5,759.5H88.6M80.5,669.5H88.6M80.5,580.5H88.6M80.5,490.5H88.6M80.5,401.5H88.6M80.5,311.5H88.6M80.5,222.5H88.6M80.5,132.5H88.6M80.5,43.5H88.6M84.6,714.5H88.6M84.6,625.5H88.6M84.6,535.5H88.6M84.6,446.5H88.6M84.6,356.5H88.6M84.6,267.5H88.6M84.6,177.5H88.6M84.6,88.5H88.6M93.5,764.6V772.8M200.5,764.6V772.8M307.5,764.6V772.8M414.5,764.6V772.8M521.5,764.6V772.8M629.5,764.6V772.8M736.5,764.6V772.8M843.5,764.6V772.8M147.5,764.6V768.8M254.5,764.6V768.8M361.5,764.6V768.8M468.5,764.6V768.8M575.5,764.6V768.8M682.5,764.6V768.8M789.5,764.6V768.8" stroke="#888888" stroke-width="1" fill="none"/>
<path d="M89.6,0V763.7H848V1H89.6" fill="none" stroke="#000" stroke-width="2.1" stroke-linejoin="miter"/>
<path d="M180.5,749.5L244.4,567.2" stroke="#000" stroke-width="4.5" fill="none"/>
<path d="M221.6,589.5L244.4,567.2L248.2,599.4" stroke="#000" stroke-width="4.5" fill="none" stroke-linejoin="round"/>
<rect x="454.3" y="562.6" width="367.1" height="152.7" fill="#fff" stroke="#000" stroke-width="4.4" rx="0.8"/>
<path d="M498.3,604.4H622.2" stroke="#ee0000" stroke-width="4.5"/>
<path d="M502.7,677.6L536.3,677.1M546.9,676.8L580.5,676.3M591.1,675.7L624.6,675.2" stroke="#3a9a60" stroke-width="4.4"/>
<g font-size="31" fill="#000">
<text transform="translate(74.30,769.10) scale(0.92,1)" text-anchor="end">0</text>
<text transform="translate(74.30,681.08) scale(0.92,1)" text-anchor="end">0.2</text>
<text transform="translate(74.30,591.86) scale(0.92,1)" text-anchor="end">0.4</text>
<text transform="translate(74.30,502.04) scale(0.92,1)" text-anchor="end">0.6</text>
<text transform="translate(74.30,412.52) scale(0.92,1)" text-anchor="end">0.8</text>
<text transform="translate(74.30,322.20) scale(0.92,1)" text-anchor="end">1</text>
<text transform="translate(74.30,234.98) scale(0.92,1)" text-anchor="end">1.2</text>
<text transform="translate(74.30,143.96) scale(0.92,1)" text-anchor="end">1.4</text>
<text transform="translate(74.30,55.44) scale(0.92,1)" text-anchor="end">1.6</text>
<text transform="translate(93.90,804.30) scale(0.92,1)" text-anchor="middle">0</text>
<text transform="translate(201.01,804.30) scale(0.92,1)" text-anchor="middle">1</text>
<text transform="translate(308.12,804.30) scale(0.92,1)" text-anchor="middle">2</text>
<text transform="translate(415.23,804.30) scale(0.92,1)" text-anchor="middle">3</text>
<text transform="translate(522.34,804.30) scale(0.92,1)" text-anchor="middle">4</text>
<text transform="translate(629.45,804.30) scale(0.92,1)" text-anchor="middle">5</text>
<text transform="translate(736.56,804.30) scale(0.92,1)" text-anchor="middle">6</text>
<text transform="translate(843.67,804.30) scale(0.92,1)" text-anchor="middle">7</text>
</g>
<text x="238" y="531.5" font-size="40" font-weight="bold"><tspan font-style="italic">m</tspan> = 0.0, 0.5, 1.0</text>
<text x="665.5" y="618" font-size="40.2" font-weight="bold"><tspan font-style="italic">Nr</tspan> = 2</text>
<text x="667.5" y="691.3" font-size="40.2" font-weight="bold"><tspan font-style="italic">Nr</tspan> = -2</text>
<text transform="translate(0,397.5) scale(0.94,1)" font-size="40" font-weight="bold" font-style="italic">w</text>
<text x="458" y="848.3" font-size="44" font-weight="bold" font-style="italic">&#951;</text>
</svg>
</body></html>
